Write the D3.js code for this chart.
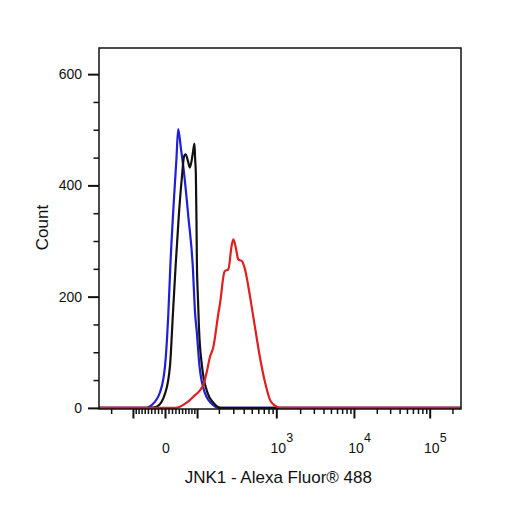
<!DOCTYPE html>
<html>
<head>
<meta charset="utf-8">
<script src="https://cdn.jsdelivr.net/npm/d3@7"></script>
<style>
html,body{margin:0;padding:0;background:#fff;}
svg{display:block;font-family:"Liberation Sans",Arial,sans-serif;}
</style>
</head>
<body>
<svg id="chart" width="506" height="506"></svg>
<script>
// ---- data (histogram channels 0..1024 on a biexponential axis, counts) ----
const blueChannels  = [0, 135, 149, 173, 187, 196, 202, 212, 219, 224, 232, 241, 253, 265, 272, 276, 284, 300, 323, 338, 1024];
const blueCounts    = [0,   0,   5,  29,  77, 168, 258, 375, 447, 501, 465, 420, 342, 258, 168, 141,  77,  26,   5,   0,    0];

const blackChannels = [0, 144, 163, 187, 201, 209, 217, 226, 234, 241, 245, 252, 257, 265, 270, 272, 274, 276, 277, 280, 283, 291, 307, 324, 345, 1024];
const blackCounts   = [0,   0,   2,  26,  77, 168, 258, 348, 411, 453, 456, 443, 432, 456, 475, 447, 420, 321, 258, 195, 141,  77,  27,   9,   0,    0];

const redChannels   = [0, 215, 229, 245, 257, 267, 286, 295, 305, 314, 323, 338, 342, 354, 356, 366, 375, 380, 387, 394, 404, 413, 427, 441, 455, 470, 484, 498, 512, 1024];
const redCounts     = [0,   0,   2,   8,  14,  20,  32,  41,  65,  92, 108, 171, 186, 243, 246, 249, 291, 303, 288, 267, 264, 249, 201, 146,  92,  45,  14,   4,   0,    0];

const seriesNames  = ["blue", "black", "red"];
const seriesColors = ["#1f1fd6", "#111111", "#e01f1f"];

const yMajorTicks = [0, 200, 400, 600];
const yMinorTicks = [50, 100, 150, 250, 300, 350, 450, 500, 550];

const xMajorTicks = [-100, 0, 100, 1000, 10000, 100000];
const xMinorTicks = [-200, -90, -80, -70, -60, -50, -40, -30, -20, -10,
  10, 20, 30, 40, 50, 60, 70, 80, 90,
  200, 300, 400, 500, 600, 700, 800, 900,
  2000, 3000, 4000, 5000, 6000, 7000, 8000, 9000,
  20000, 30000, 40000, 50000, 60000, 70000, 80000, 90000, 200000];
const xLabelValues = [0, 1000, 10000, 100000];
const xLabelBases  = ["0", "10", "10", "10"];
const xLabelExps   = ["", "3", "4", "5"];

const xTitle = "JNK1 - Alexa Fluor\u00AE 488";
const yTitle = "Count";

// ---- biexponential (logicle-like) transform: value -> channel ----
const ZERO_CH = 186.7, CH_PER_DECADE = 213.6, S = 31.2, P = 2;
function biexValue(u) {
  const a = Math.abs(u);
  const v = S * (Math.pow(10, a) - P * P * Math.pow(10, -a / P) + P * P - 1);
  return u < 0 ? -v : v;
}
function toChannel(v) {
  let lo = -4, hi = 7;
  for (let i = 0; i < 80; i++) {
    const mid = (lo + hi) / 2;
    if (biexValue(mid) < v) lo = mid; else hi = mid;
  }
  return ZERO_CH + CH_PER_DECADE * (lo + hi) / 2;
}

// ---- layout ----
const svg = d3.select("#chart");
const L = 99, R = 461, T = 48, B = 409;
const x = d3.scaleLinear().domain([0, 1024]).range([L, R]);
const y = d3.scaleLinear().domain([-2, 647]).range([B, T]);

// curves
const line = d3.line().x(d => x(d[0])).y(d => y(d[1])).curve(d3.curveMonotoneX);
const seriesData = [
  d3.zip(blueChannels, blueCounts),
  d3.zip(blackChannels, blackCounts),
  d3.zip(redChannels, redCounts)
];
svg.append("g").selectAll("path").data(seriesData).join("path")
  .attr("d", line)
  .attr("fill", "none")
  .attr("stroke", (d, i) => seriesColors[i])
  .attr("stroke-width", 2.2)
  .attr("stroke-linejoin", "round");

// frame
svg.append("rect").attr("x", L).attr("y", T).attr("width", R - L).attr("height", B - T)
  .attr("fill", "none").attr("stroke", "#111").attr("stroke-width", 1.5);

// y axis ticks
const yMajor = svg.append("g").attr("transform", `translate(${L},0)`)
  .call(d3.axisLeft(y).tickValues(yMajorTicks).tickSize(11).tickPadding(6).tickFormat(d3.format("d")));
const yMinor = svg.append("g").attr("transform", `translate(${L},0)`)
  .call(d3.axisLeft(y).tickValues(yMinorTicks).tickSize(5.5).tickFormat(""));
[yMajor, yMinor].forEach(g => {
  g.select(".domain").remove();
  g.selectAll("line").attr("stroke", "#111");
});
yMajor.selectAll("line").attr("stroke-width", 2);
yMinor.selectAll("line").attr("stroke-width", 1.5);
yMajor.selectAll("text").attr("font-size", 14).attr("fill", "#111")
  .attr("font-family", "'Liberation Sans', Arial, sans-serif");

// x axis ticks
const xMajor = svg.append("g").attr("transform", `translate(0,${B})`)
  .call(d3.axisBottom(x).tickValues(xMajorTicks.map(toChannel)).tickSize(9.5).tickFormat(""));
const xMinor = svg.append("g").attr("transform", `translate(0,${B})`)
  .call(d3.axisBottom(x).tickValues(xMinorTicks.map(toChannel)).tickSize(5).tickFormat(""));
[xMajor, xMinor].forEach(g => {
  g.select(".domain").remove();
  g.selectAll("line").attr("stroke", "#111");
});
xMajor.selectAll("line").attr("stroke-width", 2);
xMinor.selectAll("line").attr("stroke-width", 1.5);

// x labels with superscripts
const lab = svg.append("g").attr("fill", "#111");
xLabelValues.forEach((v, i) => {
  const cx = x(toChannel(v));
  if (xLabelExps[i] === "") {
    lab.append("text").attr("x", cx + 1).attr("y", 452.7).attr("text-anchor", "middle")
      .attr("font-size", 14).text(xLabelBases[i]);
  } else {
    lab.append("text").attr("x", cx + 2).attr("y", 452.7).attr("text-anchor", "middle")
      .attr("font-size", 14).text(xLabelBases[i]);
    lab.append("text").attr("x", cx + 10).attr("y", 441.7).attr("text-anchor", "start")
      .attr("font-size", 12.5).text(xLabelExps[i]);
  }
});

// titles
svg.append("text").attr("x", 278.3).attr("y", 483.3).attr("text-anchor", "middle")
  .attr("font-size", 17).attr("fill", "#111").text(xTitle);
svg.append("text").attr("transform", "translate(48.3,227.5) rotate(-90)")
  .attr("text-anchor", "middle").attr("font-size", 17).attr("fill", "#111").text(yTitle);
</script>
</body>
</html>
